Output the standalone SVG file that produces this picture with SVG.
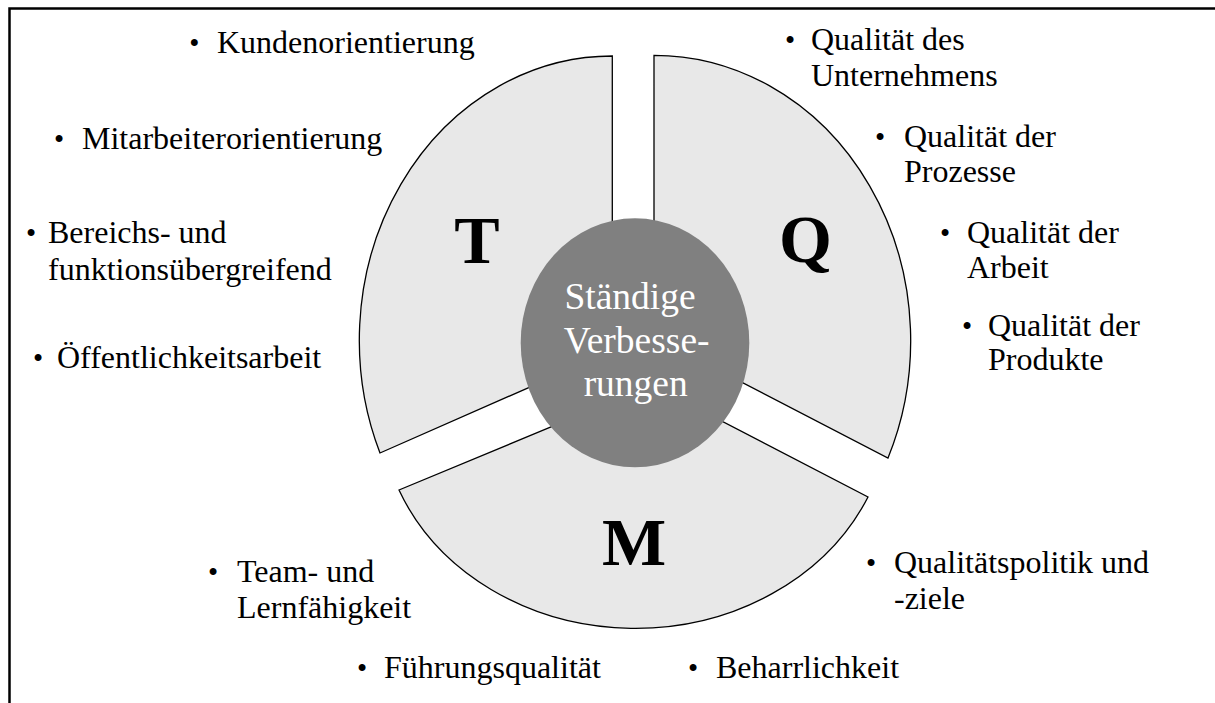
<svg xmlns="http://www.w3.org/2000/svg" width="1215" height="703" viewBox="0 0 1215 703">
  <style>
    .frame { fill: none; stroke: #000; stroke-width: 2.5; }
    .wedge { fill: #e8e8e8; stroke: #000; stroke-width: 1.3; stroke-linejoin: miter; }
    .hub { fill: #808080; stroke: none; }
    .item { font-family: "Liberation Serif", "Times New Roman", serif; font-size: 32px; fill: #000; }
    .dot { font-family: "Liberation Serif", "Times New Roman", serif; font-size: 29px; fill: #000; text-anchor: middle; }
    .big { font-family: "Liberation Serif", "Times New Roman", serif; font-size: 68px; font-weight: bold; fill: #000; text-anchor: middle; }
    .hubtext { font-family: "Liberation Serif", "Times New Roman", serif; font-size: 37.5px; fill: #fff; text-anchor: middle; }
  </style>

  <!-- outer frame (runs past the right and bottom edges) -->
  <rect class="frame" x="9.5" y="8.5" width="1230" height="720"/>

  <!-- T segment -->
  <g id="segment-t">
    <path class="wedge" d="M612.3,56 A253,284.4 0 0 0 380,453 L612.3,350.8 Z"/>
    <text class="big" x="477" y="262.5">T</text>
  </g>

  <!-- Q segment -->
  <g id="segment-q">
    <path class="wedge" d="M654,55.3 A256.7,285.4 0 0 1 888,458 L654,336.8 Z"/>
    <text class="big" x="805.5" y="261.5">Q</text>
  </g>

  <!-- M segment -->
  <g id="segment-m">
    <path class="wedge" d="M399,490 A255,222 0 0 0 868,497 L652,385 Z"/>
    <text class="big" x="634" y="565">M</text>
  </g>

  <!-- hub -->
  <g id="hub">
    <ellipse class="hub" cx="635" cy="342.8" rx="114.3" ry="124.5"/>
    <text class="hubtext" x="630" y="308.5">Ständige</text>
    <text class="hubtext" x="636.7" y="352.5">Verbesse-</text>
    <text class="hubtext" x="635.7" y="395.5">rungen</text>
  </g>

  <!-- T items -->
  <g id="t-kunden">
    <text class="dot" x="194.3" y="52.7">•</text>
    <text class="item" x="217" y="52.7">Kundenorientierung</text>
  </g>
  <g id="t-mitarbeiter">
    <text class="dot" x="59" y="149.3">•</text>
    <text class="item" x="82" y="149.3">Mitarbeiterorientierung</text>
  </g>
  <g id="t-bereich">
    <text class="dot" x="31" y="243">•</text>
    <text class="item" x="48" y="243">Bereichs- und</text>
    <text class="item" x="48" y="280">funktionsübergreifend</text>
  </g>
  <g id="t-oeffentlich">
    <text class="dot" x="38" y="368">•</text>
    <text class="item" x="57" y="368">Öffentlichkeitsarbeit</text>
  </g>

  <!-- Q items -->
  <g id="q-unternehmen">
    <text class="dot" x="790" y="50">•</text>
    <text class="item" x="811" y="50">Qualität des</text>
    <text class="item" x="811" y="86">Unternehmens</text>
  </g>
  <g id="q-prozesse">
    <text class="dot" x="880" y="147">•</text>
    <text class="item" x="904" y="147">Qualität der</text>
    <text class="item" x="904" y="182">Prozesse</text>
  </g>
  <g id="q-arbeit">
    <text class="dot" x="945" y="243">•</text>
    <text class="item" x="967" y="243">Qualität der</text>
    <text class="item" x="967" y="278">Arbeit</text>
  </g>
  <g id="q-produkte">
    <text class="dot" x="967" y="336">•</text>
    <text class="item" x="988" y="336">Qualität der</text>
    <text class="item" x="988" y="370">Produkte</text>
  </g>

  <!-- M items -->
  <g id="m-team">
    <text class="dot" x="213" y="582">•</text>
    <text class="item" x="237" y="582">Team- und</text>
    <text class="item" x="237" y="618">Lernfähigkeit</text>
  </g>
  <g id="m-fuehrung">
    <text class="dot" x="362" y="678">•</text>
    <text class="item" x="384" y="678">Führungsqualität</text>
  </g>
  <g id="m-beharrlichkeit">
    <text class="dot" x="693" y="678">•</text>
    <text class="item" x="716" y="678">Beharrlichkeit</text>
  </g>
  <g id="m-politik">
    <text class="dot" x="871" y="573">•</text>
    <text class="item" x="894" y="573">Qualitätspolitik und</text>
    <text class="item" x="894" y="609">-ziele</text>
  </g>
</svg>
